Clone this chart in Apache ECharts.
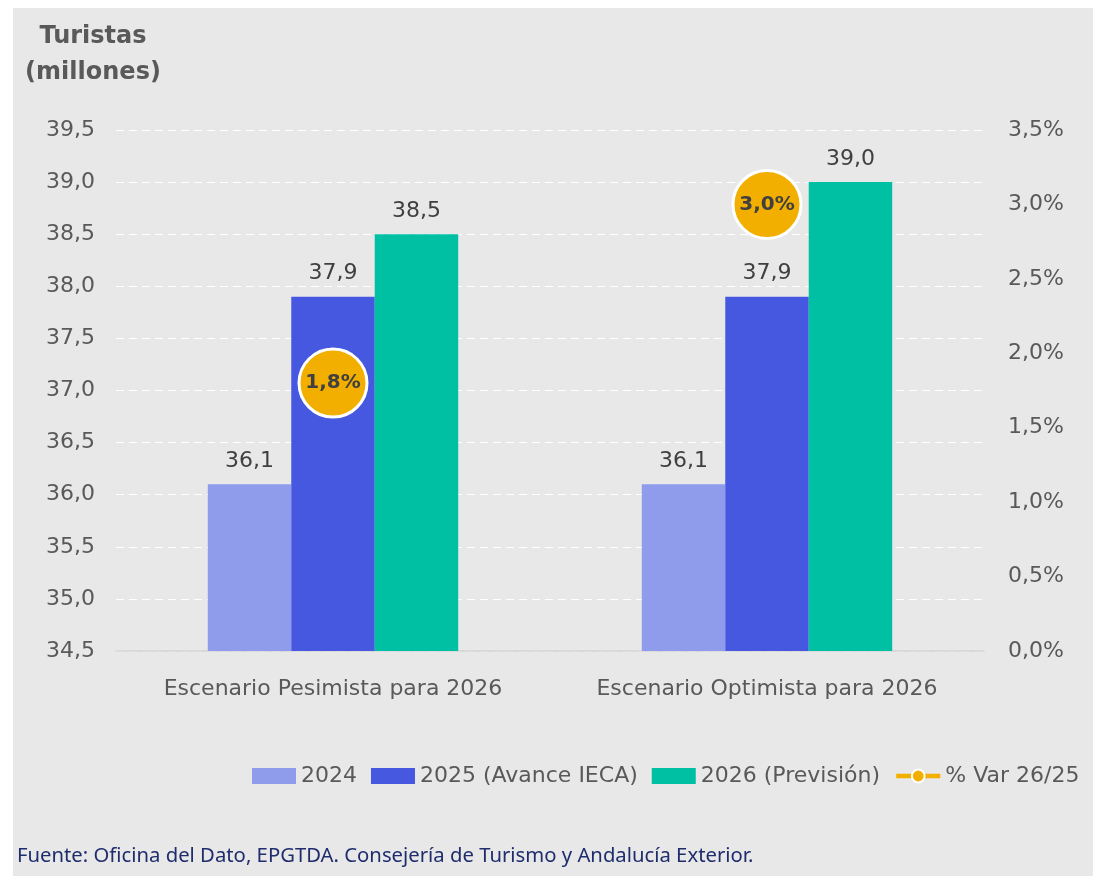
<!DOCTYPE html>
<html lang="es">
<head>
<meta charset="utf-8">
<title>Turistas (millones)</title>
<script src="https://cdn.jsdelivr.net/npm/echarts@6/dist/echarts.min.js"></script>
<style>
  html, body { margin: 0; padding: 0; background: #ffffff; }
  #panel { position: absolute; left: 13px; top: 8px; width: 1080px; height: 868px; background: #e8e8e8; }
  #chart { position: absolute; left: 0; top: 0; width: 1093px; height: 876px; }
</style>
</head>
<body>
<div id="panel"></div>
<div id="chart"></div>
<script>
// Escenarios y valores (millones de turistas)
const categories = ['Escenario Pesimista para 2026', 'Escenario Optimista para 2026'];
const turistas2024 = [36.1, 36.1];
const turistas2025 = [37.9, 37.9];
const turistas2026 = [38.5, 39.0];
// Variación 2026/2025 (%)
const variacion = [1.8, 3.0];

const seriesNames = ['2024', '2025 (Avance IECA)', '2026 (Previsión)', '% Var 26/25'];
const sourceText = 'Fuente: Oficina del Dato, EPGTDA. Consejería de Turismo y Andalucía Exterior.';

const FONT = 'DejaVu Sans';
const GREY = '#595959';
const DARK = '#404040';
const ORANGE = '#f3af00';

const comma = (v, d) => v.toFixed(d).replace('.', ',');

const chart = echarts.init(document.getElementById('chart'), null, { renderer: 'canvas' });

const barLabel = {
  show: true,
  position: 'top',
  distance: 12,
  fontFamily: FONT,
  fontSize: 22,
  color: DARK,
  formatter: p => comma(p.value, 1)
};

chart.setOption({
  backgroundColor: 'transparent',
  animation: false,
  textStyle: { fontFamily: FONT },
  title: {
    text: 'Turistas\n(millones)',
    left: 88,
    top: 14,
    textAlign: 'center',
    textStyle: { fontFamily: FONT, fontSize: 24, fontWeight: 'bold', color: GREY, lineHeight: 36, align: 'center' }
  },
  legend: {
    left: 252,
    top: 765,
    width: 841,
    padding: 0,
    itemWidth: 44,
    itemHeight: 16,
    itemGap: 14,
    textStyle: { fontFamily: FONT, fontSize: 22, color: GREY },
    data: [
      { name: seriesNames[0], icon: 'rect' },
      { name: seriesNames[1], icon: 'rect' },
      { name: seriesNames[2], icon: 'rect' },
      {
        name: seriesNames[3],
        lineStyle: { width: 4.5, opacity: 1, color: ORANGE },
        itemStyle: { color: ORANGE, borderColor: '#ffffff', borderWidth: 2 }
      }
    ]
  },
  grid: { left: 116, right: 109, top: 130, bottom: 225, containLabel: false },
  xAxis: {
    type: 'category',
    data: categories,
    axisLine: { show: true, lineStyle: { color: '#d2d2d2', width: 1.5 } },
    axisTick: { show: false },
    axisLabel: { interval: 0, margin: 27, fontFamily: FONT, fontSize: 22, color: GREY }
  },
  yAxis: [
    {
      type: 'value',
      min: 34.5,
      max: 39.5,
      interval: 0.5,
      axisLine: { show: false },
      axisTick: { show: false },
      axisLabel: { margin: 21, fontFamily: FONT, fontSize: 22, color: GREY, formatter: v => comma(v, 1) },
      splitLine: { show: true, lineStyle: { color: '#ffffff', width: 1.2, type: [8, 5] } }
    },
    {
      type: 'value',
      min: 0,
      max: 3.5,
      interval: 0.5,
      position: 'right',
      axisLine: { show: false },
      axisTick: { show: false },
      axisLabel: { margin: 24, fontFamily: FONT, fontSize: 22, color: GREY, formatter: v => comma(v, 1) + '%' },
      splitLine: { show: false }
    }
  ],
  series: [
    {
      name: seriesNames[0], type: 'bar', data: turistas2024,
      barGap: '0%', barCategoryGap: '42.3%',
      itemStyle: { color: '#8f9cec' }, label: barLabel, z: 2
    },
    {
      name: seriesNames[1], type: 'bar', data: turistas2025,
      barGap: '0%', barCategoryGap: '42.3%',
      itemStyle: { color: '#4658e0' }, label: barLabel, z: 2
    },
    {
      name: seriesNames[2], type: 'bar', data: turistas2026,
      barGap: '0%', barCategoryGap: '42.3%',
      itemStyle: { color: '#00c0a4' }, label: barLabel, z: 2
    },
    {
      name: seriesNames[3], type: 'line', yAxisIndex: 1, data: variacion,
      symbol: 'circle', symbolSize: 68,
      lineStyle: { width: 0, opacity: 0 },
      itemStyle: { color: ORANGE, borderColor: '#ffffff', borderWidth: 3 },
      label: {
        show: true, position: 'inside',
        fontFamily: FONT, fontSize: 20, fontWeight: 'bold', color: DARK,
        formatter: p => comma(p.value, 1) + '%'
      },
      z: 5
    }
  ],
  graphic: [
    {
      type: 'text',
      left: 17,
      top: 846,
      style: { text: sourceText, fontFamily: 'Noto Sans', fontSize: 20.3, fill: '#1f2d6d' }
    }
  ]
});
</script>
</body>
</html>
